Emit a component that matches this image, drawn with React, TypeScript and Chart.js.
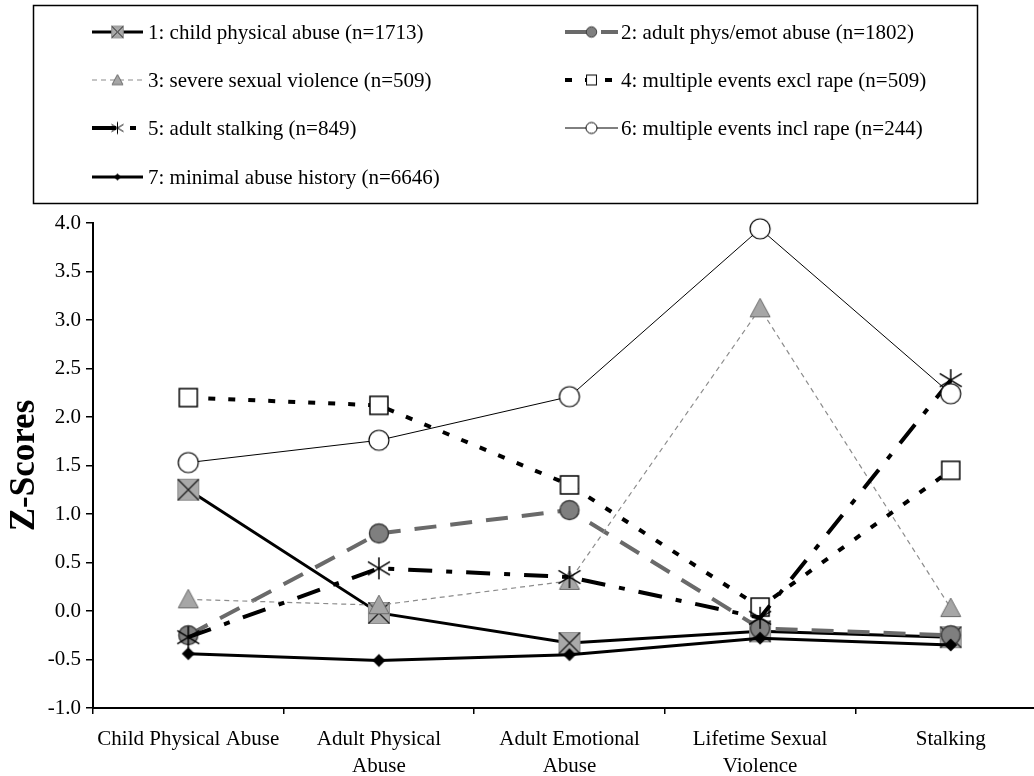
import React, { useEffect, useRef } from "react";
import { Chart, registerables } from "chart.js";

Chart.register(...registerables);

// ---------- data ----------
const categories: (string | string[])[] = [
  "Child Physical Abuse",
  ["Adult Physical", "Abuse"],
  ["Adult Emotional", "Abuse"],
  ["Lifetime Sexual", "Violence"],
  "Stalking",
];

const seriesLabels = [
  "1: child physical abuse (n=1713)",
  "2: adult phys/emot abuse (n=1802)",
  "3: severe sexual violence (n=509)",
  "4: multiple events excl rape (n=509)",
  "5: adult stalking (n=849)",
  "6: multiple events incl rape (n=244)",
  "7: minimal abuse history (n=6646)",
];

const childPhysicalAbuse = [1.25, -0.02, -0.33, -0.21, -0.27];
const adultPhysEmotAbuse = [-0.25, 0.8, 1.04, -0.18, -0.25];
const severeSexualViolence = [0.12, 0.06, 0.31, 3.12, 0.03];
const multipleEventsExclRape = [2.2, 2.12, 1.3, 0.04, 1.45];
const adultStalking = [-0.27, 0.44, 0.35, -0.07, 2.38];
const multipleEventsInclRape = [1.53, 1.76, 2.21, 3.94, 2.24];
const minimalAbuseHistory = [-0.44, -0.51, -0.45, -0.28, -0.35];

const yMin = -1.0;
const yMax = 4.0;
const yStep = 0.5;
const yTitle = "Z-Scores";

// ---------- styles ----------
const FONT = "'Liberation Serif', 'Times New Roman', Times, serif";
const CANVAS_W = 1060;
const CANVAS_H = 776;

type Style = { color: string; width: number; dash: number[]; marker: string };
const styles: Style[] = [
  { color: "#000000", width: 3, dash: [], marker: "xsquare" },
  { color: "#6a6a6a", width: 4, dash: [22, 14], marker: "gcircle" },
  { color: "#8c8c8c", width: 1.2, dash: [5, 4], marker: "gtriangle" },
  { color: "#000000", width: 4, dash: [7, 13], marker: "wsquare" },
  { color: "#000000", width: 4, dash: [24, 14, 6, 14], marker: "asterisk" },
  { color: "#000000", width: 1, dash: [], marker: "wcircle" },
  { color: "#000000", width: 3, dash: [], marker: "diamond" },
];

function makeMarker(kind: string, s: number): HTMLCanvasElement {
  const c = document.createElement("canvas");
  const d = Math.round(24 * s) + 2;
  c.width = d;
  c.height = d;
  const g = c.getContext("2d")!;
  const m = d / 2;
  g.lineJoin = "miter";
  switch (kind) {
    case "xsquare": {
      const h = 10.5 * s;
      g.fillStyle = "#a9a9a9";
      g.fillRect(m - h, m - h, 2 * h, 2 * h);
      g.strokeStyle = "#8c8c8c";
      g.lineWidth = 1;
      g.strokeRect(m - h, m - h, 2 * h, 2 * h);
      g.strokeStyle = "#222222";
      g.lineWidth = Math.max(1, 1.4 * s);
      g.beginPath();
      g.moveTo(m - h, m - h);
      g.lineTo(m + h, m + h);
      g.moveTo(m + h, m - h);
      g.lineTo(m - h, m + h);
      g.stroke();
      break;
    }
    case "gcircle": {
      g.beginPath();
      g.arc(m, m, 9.5 * s, 0, Math.PI * 2);
      g.fillStyle = "#7f7f7f";
      g.fill();
      g.strokeStyle = "#3a3a3a";
      g.lineWidth = Math.max(1, 1.4 * s);
      g.stroke();
      break;
    }
    case "gtriangle": {
      const h = 10 * s;
      g.beginPath();
      g.moveTo(m, m - h);
      g.lineTo(m + h, m + h * 0.85);
      g.lineTo(m - h, m + h * 0.85);
      g.closePath();
      g.fillStyle = "#a6a6a6";
      g.fill();
      g.strokeStyle = "#6a6a6a";
      g.lineWidth = 1;
      g.stroke();
      break;
    }
    case "wsquare": {
      const h = 9 * s;
      g.fillStyle = "#ffffff";
      g.fillRect(m - h, m - h, 2 * h, 2 * h);
      g.strokeStyle = "#000000";
      g.lineWidth = Math.max(1, 1.5 * s);
      g.strokeRect(m - h, m - h, 2 * h, 2 * h);
      break;
    }
    case "asterisk": {
      const h = 11 * s;
      g.strokeStyle = "#000000";
      g.lineWidth = Math.max(1, 1.5 * s);
      g.beginPath();
      g.moveTo(m, m - h);
      g.lineTo(m, m + h);
      g.moveTo(m - h, m - h * 0.6);
      g.lineTo(m + h, m + h * 0.6);
      g.moveTo(m - h, m + h * 0.6);
      g.lineTo(m + h, m - h * 0.6);
      g.stroke();
      break;
    }
    case "wcircle": {
      g.beginPath();
      g.arc(m, m, 10 * s, 0, Math.PI * 2);
      g.fillStyle = "#ffffff";
      g.fill();
      g.strokeStyle = "#000000";
      g.lineWidth = Math.max(1, 1.2 * s);
      g.stroke();
      break;
    }
    case "diamond": {
      const h = 6.5 * s;
      g.beginPath();
      g.moveTo(m, m - h);
      g.lineTo(m + h, m);
      g.lineTo(m, m + h);
      g.lineTo(m - h, m);
      g.closePath();
      g.fillStyle = "#000000";
      g.fill();
      break;
    }
  }
  return c;
}

const legendPlugin = {
  id: "boxLegend",
  afterDraw(chart: any) {
    const ctx: CanvasRenderingContext2D = chart.ctx;
    const icons: HTMLCanvasElement[] = chart.$legendIcons || [];
    ctx.save();
    ctx.strokeStyle = "#000";
    ctx.lineWidth = 1.5;
    ctx.strokeRect(33.5, 5.5, 944, 198);
    const cols = [
      { x0: 92, x1: 143, tx: 148 },
      { x0: 565, x1: 618, tx: 621 },
    ];
    const rows = [32, 80, 128, 177];
    chart.data.datasets.forEach((ds: any, i: number) => {
      const col = cols[i % 2];
      const y = rows[Math.floor(i / 2)];
      const st = styles[i];
      ctx.save();
      ctx.strokeStyle = st.color;
      ctx.lineWidth = st.width;
      ctx.setLineDash(st.dash);
      ctx.beginPath();
      ctx.moveTo(col.x0, y);
      ctx.lineTo(col.x1, y);
      ctx.stroke();
      ctx.restore();
      const ic = icons[i];
      if (ic) {
        const cx = (col.x0 + col.x1) / 2;
        ctx.drawImage(ic, cx - ic.width / 2, y - ic.height / 2);
      }
      ctx.fillStyle = "#000";
      ctx.font = `21px ${FONT}`;
      ctx.textBaseline = "middle";
      ctx.textAlign = "left";
      ctx.fillText(ds.label, col.tx, y + 1);
    });
    ctx.restore();
  },
};

export default function App() {
  const ref = useRef<HTMLCanvasElement | null>(null);

  useEffect(() => {
    if (!ref.current) return;
    const seriesValues = [
      childPhysicalAbuse,
      adultPhysEmotAbuse,
      severeSexualViolence,
      multipleEventsExclRape,
      adultStalking,
      multipleEventsInclRape,
      minimalAbuseHistory,
    ];
    const pointIcons = styles.map((s) => makeMarker(s.marker, 1));
    const legendIcons = styles.map((s) => makeMarker(s.marker, 0.55));

    const chart = new Chart(ref.current, {
      type: "line",
      data: {
        labels: categories as any,
        datasets: seriesValues.map((vals, i) => ({
          label: seriesLabels[i],
          data: vals,
          borderColor: styles[i].color,
          borderWidth: styles[i].width,
          borderDash: styles[i].dash,
          pointStyle: pointIcons[i] as any,
          pointRadius: 10,
          pointHoverRadius: 10,
          tension: 0,
          fill: false,
          clip: false as any,
          order: seriesValues.length - 1 - i,
        })),
      },
      options: {
        animation: false,
        responsive: false,
        events: [],
        layout: { padding: { top: 223, left: 0, right: 0, bottom: 0 } },
        plugins: {
          legend: { display: false },
          tooltip: { enabled: false },
          title: { display: false },
        },
        scales: {
          x: {
            type: "category",
            offset: true,
            grid: {
              display: true,
              offset: true,
              drawOnChartArea: false,
              drawTicks: true,
              tickLength: 6,
              color: "#000",
              lineWidth: 1.5,
            },
            border: { display: true, color: "#000", width: 2 },
            ticks: {
              color: "#000",
              font: { family: FONT, size: 21, lineHeight: 1.3 },
              padding: 12,
              maxRotation: 0,
              autoSkip: false,
            },
            afterFit: (scale: any) => {
              scale.height = 68;
              scale.paddingLeft = 0;
              scale.paddingRight = 0;
            },
          },
          y: {
            min: yMin,
            max: yMax,
            grid: {
              display: true,
              drawOnChartArea: false,
              drawTicks: true,
              tickLength: 7,
              color: "#000",
              lineWidth: 1.5,
            },
            border: { display: true, color: "#000", width: 2 },
            ticks: {
              stepSize: yStep,
              color: "#000",
              font: { family: FONT, size: 21 },
              padding: 5,
              callback: (v: any) => Number(v).toFixed(1),
            },
            title: {
              display: true,
              text: yTitle,
              color: "#000",
              font: { family: FONT, size: 35, weight: "bold" },
              padding: { top: 4, bottom: 0 },
            },
            afterFit: (scale: any) => {
              scale.width = 93;
            },
          },
        },
      },
      plugins: [legendPlugin],
    });
    (chart as any).$legendIcons = legendIcons;
    chart.draw();

    return () => {
      chart.destroy();
    };
  }, []);

  return (
    <div
      style={{
        position: "fixed",
        left: 0,
        top: 0,
        width: 1034,
        height: 776,
        overflow: "hidden",
        background: "#fff",
      }}
    >
      <canvas
        ref={ref}
        width={CANVAS_W}
        height={CANVAS_H}
        style={{ display: "block", width: CANVAS_W, height: CANVAS_H }}
      />
    </div>
  );
}
